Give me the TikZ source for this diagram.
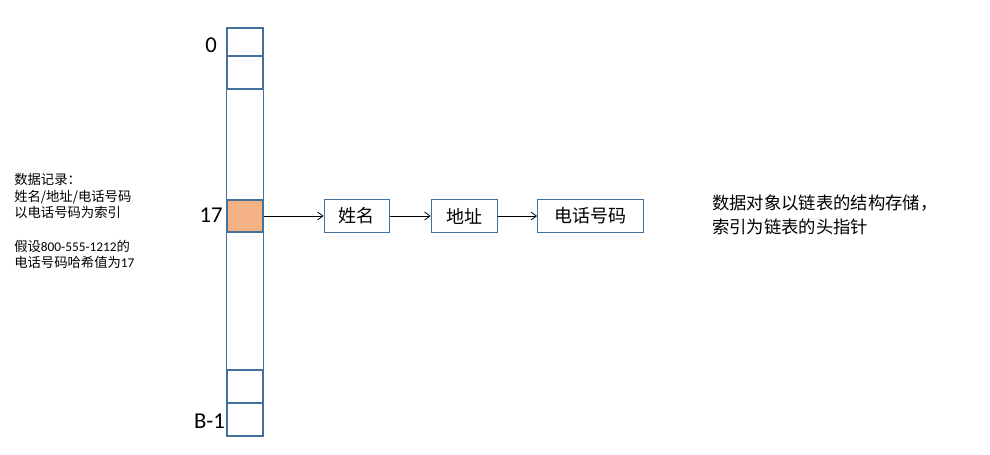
\documentclass[tikz,border=0pt]{standalone}
\usepackage{fontspec}
\setmainfont{Carlito}
\newfontfamily\cjk{Noto Sans CJK SC}
\usetikzlibrary{arrows.meta, positioning}
\definecolor{edge}{HTML}{41719C}
\definecolor{hit}{HTML}{F4B183}
\tikzset{
  slot/.style={draw=edge, line width=0.8pt, minimum width=27pt, inner sep=0pt},
  rec/.style={draw=edge, line width=0.8pt, minimum height=24.75pt, inner sep=2pt,
              font=\cjk\fontsize{13.5}{15}\selectfont},
  idx/.style={font=\fontsize{17}{20}\selectfont, inner sep=0pt},
  fl/.style={-{Straight Barb[length=4pt, width=6pt]}, line width=0.6pt, draw=black},
}

\begin{document}
\begin{tikzpicture}[x=0.75pt, y=-0.75pt]
  \useasboundingbox (0,0) rectangle (990,454);
  % hash table column
  \node[slot, minimum height=21pt] (c0) at (245,42) {};
  \node[slot, minimum height=24.75pt] (c1) at (245,72.5) {};
  \node[slot, fill=hit, minimum height=24pt] (c17) at (245,216) {};
  \node[slot, minimum height=24.75pt] (cb2) at (245,386.5) {};
  \node[slot, minimum height=24.75pt] (cb1) at (245,419.5) {};
  \draw[edge, line width=0.8pt] (c1.south west) -- (c17.north west)
    (c1.south east) -- (c17.north east)
    (c17.south west) -- (cb2.north west)
    (c17.south east) -- (cb2.north east);
  \node[idx] (l0) at (211,45) {0};
  \node[idx] (l17) at (211,215) {17};
  \node[idx] (lb) at (209.5,421) {B-1};
  % linked list
  \node[rec, minimum width=48.75pt, right=45pt of c17] (name) {姓名};
  \node[rec, minimum width=49.5pt, right=30.75pt of name] (addr) {地址};
  \node[rec, minimum width=79.5pt, right=29.5pt of addr] (tel) {电话号码};
  \draw[fl] (c17) -- (name);
  \draw[fl] (name) -- (addr);
  \draw[fl] (addr) -- (tel);
  % notes
  \node[anchor=north west, align=left, inner sep=0pt,
        font=\cjk\fontsize{10}{12.5}\selectfont] (note) at (14,173)
    {数据记录：\\姓名/地址/电话号码\\以电话号码为索引\\[12.5pt]
     假设{\rmfamily 800-555-1212}的\\电话号码哈希值为{\rmfamily 17}};
  \node[anchor=west, align=left, inner sep=0pt,
        font=\cjk\fontsize{13}{18}\selectfont] (desc) at (712,215)
    {数据对象以链表的结构存储，\\索引为链表的头指针};
\end{tikzpicture}
\end{document}
